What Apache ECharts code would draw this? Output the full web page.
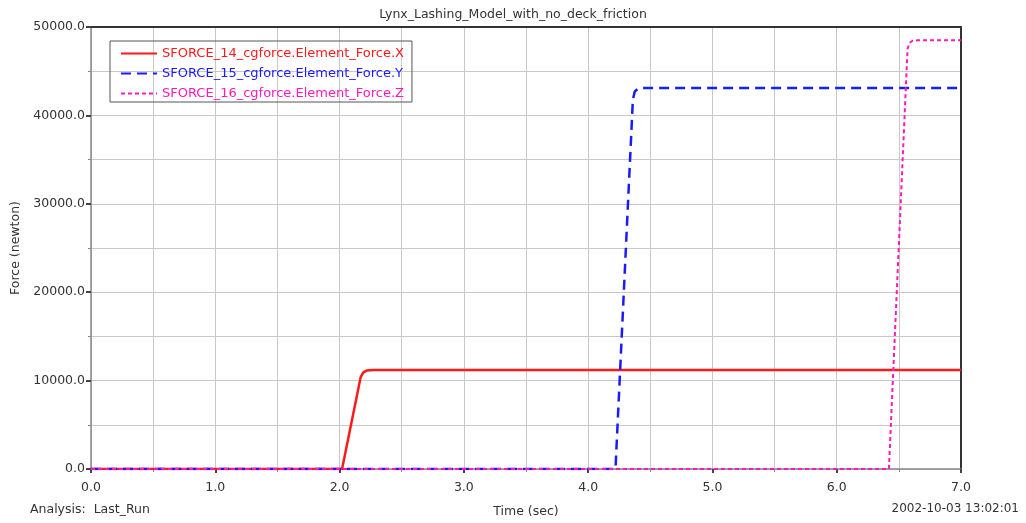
<!DOCTYPE html>
<html><head><meta charset="utf-8">
<script src="https://cdn.jsdelivr.net/npm/echarts@6/dist/echarts.min.js"></script>
<style>html,body{margin:0;padding:0;background:#fff}#c{width:1026px;height:523px}</style>
</head><body><div id="c"></div>
<script>
const titleText = 'Lynx_Lashing_Model_with_no_deck_friction';
const seriesNames = ['SFORCE_14_cgforce.Element_Force.X','SFORCE_15_cgforce.Element_Force.Y','SFORCE_16_cgforce.Element_Force.Z'];
const seriesColors = ['#ff1a1a', '#1a1aff', '#ff1aba'];
const timeX = [0, 2.02, 2.17, 2.19, 2.22, 2.27, 7.0];
const forceX = [0, 0, 10400, 10900, 11150, 11200, 11200];
const timeY = [0, 4.22, 4.36, 4.375, 4.40, 4.44, 7.0];
const forceY = [0, 0, 41800, 42700, 43000, 43100, 43100];
const timeZ = [0, 6.42, 6.57, 6.585, 6.61, 6.65, 7.0];
const forceZ = [0, 0, 47500, 48200, 48450, 48500, 48500];

const pair = (t, f) => t.map((v, i) => [v, f[i]]);
const font = 'DejaVu Sans, Liberation Sans, sans-serif';
const txt = '#333';
const chart = echarts.init(document.getElementById('c'), null, {renderer: 'canvas'});
chart.setOption({
  animation: false,
  backgroundColor: '#fff',
  title: {text: titleText, left: 'center', top: 3, textStyle: {fontFamily: font, fontSize: 12.5, fontWeight: 'normal', color: txt}},
  grid: {left: 91, right: 65, top: 27, bottom: 54, outerBoundsMode: 'none', containLabel: false},
  legend: {
    orient: 'vertical', left: 110, top: 41, padding: [6, 8, 2, 10], itemGap: 7,
    itemWidth: 36, itemHeight: 12,
    borderColor: '#555', borderWidth: 1,
    itemStyle: {opacity: 0},
    data: seriesNames.map((n, i) => ({name: n, textStyle: {color: seriesColors[i]}})),
    textStyle: {fontFamily: font, fontSize: 13}
  },
  graphic: [
    {type: 'text', left: 30, top: 503, style: {text: 'Analysis:  Last_Run', font: '12.5px ' + font, fill: txt}},
    {type: 'text', right: 7, top: 503, style: {text: '2002-10-03 13:02:01', font: '12px ' + font, fill: txt}}
  ],
  xAxis: [{
    type: 'value', min: 0, max: 7, interval: 1,
    name: 'Time (sec)', nameLocation: 'middle', nameGap: 36,
    nameTextStyle: {fontFamily: font, fontSize: 12.5, color: txt},
    axisLine: {onZero: false, lineStyle: {color: '#888', width: 1.5}},
    axisTick: {show: true, length: 4, lineStyle: {color: '#444', width: 2}},
    minorTick: {show: true, splitNumber: 2, length: 3, lineStyle: {color: '#888'}},
    axisLabel: {fontFamily: font, fontSize: 12.5, color: txt, formatter: v => v.toFixed(1), margin: 12},
    splitLine: {show: true, lineStyle: {color: '#c8c8c8', width: 1}},
    minorSplitLine: {show: true, lineStyle: {color: '#c8c8c8', width: 1}}
  }, {
    type: 'value', position: 'top', min: 0, max: 7,
    axisLine: {show: true, onZero: false, lineStyle: {color: '#333', width: 2}},
    axisTick: {show: false}, axisLabel: {show: false}, splitLine: {show: false}
  }],
  yAxis: [{
    type: 'value', min: 0, max: 50000, interval: 10000,
    name: 'Force (newton)', nameLocation: 'middle', nameGap: 68, nameRotate: 90,
    nameTextStyle: {fontFamily: font, fontSize: 12.5, color: txt},
    axisLine: {show: true, onZero: false, lineStyle: {color: '#888', width: 1.5}},
    axisTick: {show: true, length: 5, lineStyle: {color: '#444', width: 2}},
    minorTick: {show: true, splitNumber: 2, length: 3, lineStyle: {color: '#888'}},
    axisLabel: {fontFamily: font, fontSize: 12.5, color: txt, formatter: v => v.toFixed(1), margin: 6},
    splitLine: {show: true, lineStyle: {color: '#c8c8c8', width: 1}},
    minorSplitLine: {show: true, lineStyle: {color: '#c8c8c8', width: 1}}
  }, {
    type: 'value', position: 'right', min: 0, max: 50000,
    axisLine: {show: true, onZero: false, lineStyle: {color: '#333', width: 2}},
    axisTick: {show: false}, axisLabel: {show: false}, splitLine: {show: false}
  }],
  series: [
    {name: seriesNames[0], type: 'line', data: pair(timeX, forceX), symbol: 'none', showSymbol: false, z: 3,
     color: seriesColors[0], lineStyle: {color: seriesColors[0], width: 2.5}},
    {name: seriesNames[1], type: 'line', data: pair(timeY, forceY), symbol: 'none', showSymbol: false, z: 4,
     color: seriesColors[1], lineStyle: {color: seriesColors[1], width: 2.5, type: [10, 6]}},
    {name: seriesNames[2], type: 'line', data: pair(timeZ, forceZ), symbol: 'none', showSymbol: false, z: 5,
     color: seriesColors[2], lineStyle: {color: seriesColors[2], width: 2, type: [4, 3]}}
  ]
});
</script></body></html>
